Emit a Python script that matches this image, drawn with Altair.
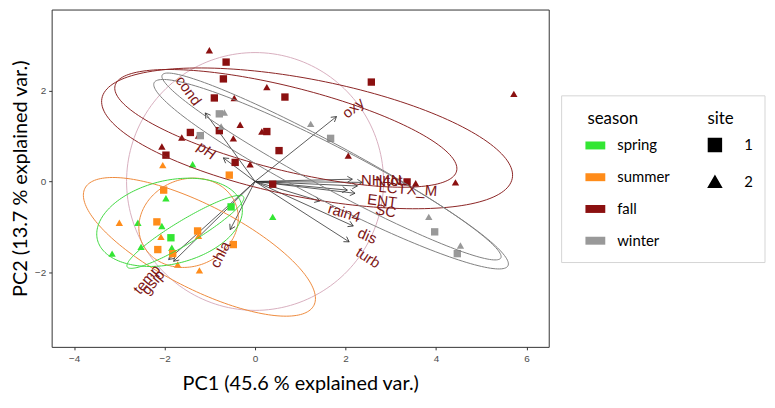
import numpy as np
import pandas as pd
import altair as alt

# ---------------- data ----------------
seasons = ["spring", "summer", "fall", "winter"]
season_colors = ["#33e633", "#ff8c1a", "#8b1010", "#999999"]
ellipse_colors = ["#3fd83f", "#ee8a3c", "#8b2323", "#808080"]

fall_x = [-1.01, -0.64, -0.70, 2.57, 0.26, 0.66, -0.90, -0.46, -0.33, 0.15, 0.26, -1.43, -1.62, -1.25,
          -0.79, -0.48, 0.53, 2.06, -2.06, -1.97, -0.44, -0.11, 3.36, 3.55, 4.43, 5.72, 0.39]
fall_y = [2.89, 2.63, 2.26, 2.19, 2.08, 1.86, 1.84, 1.84, 1.25, 1.10, 1.10, 1.08, 0.97, 1.01,
          1.12, 0.95, 0.68, 0.57, 0.77, 0.58, 0.42, 0.38, -0.01, -0.04, -0.02, 1.93, -0.06]
fall_site = [2, 1, 1, 1, 2, 1, 1, 2, 2, 2, 1, 1, 2, 2, 1, 2, 1, 2, 2, 1, 1, 2, 1, 2, 2, 2, 1]

winter_x = [-0.79, -0.68, -0.75, 1.23, 1.67, -1.21, 3.84, 3.97, 4.54, 4.47]
winter_y = [1.49, 1.52, 1.21, 1.27, 0.95, 1.01, -0.78, -1.11, -1.41, -1.59]
winter_site = [1, 2, 2, 2, 1, 1, 2, 1, 2, 1]

spring_x = [-1.38, -1.97, -2.59, -2.06, -1.86, -2.52, -1.84, -3.16, -0.53, 0.39]
spring_y = [0.38, -0.37, -0.91, -0.98, -1.24, -1.44, -1.46, -1.59, -0.56, -0.78]
spring_site = [2, 2, 2, 2, 1, 2, 2, 2, 1, 2]

summer_x = [-2.04, -0.57, -2.02, -3.00, -2.17, -2.08, -1.27, -1.25, -2.15, -1.82, -1.71, -1.23, -0.48]
summer_y = [0.36, 0.14, -0.19, -0.91, -0.89, -1.22, -1.09, -1.20, -1.50, -1.59, -1.83, -1.96, -1.39]
summer_site = [2, 1, 1, 2, 1, 2, 1, 2, 1, 1, 2, 2, 1]

var_names = ["cond", "pH", "oxy", "NH4N", "Ntot", "LCTX_M", "ENT", "SC", "rain4", "dis", "turb",
             "chla", "temp", "gsip"]
var_x = [-1.10, -0.70, 1.80, 2.37, 2.15, 2.26, 2.21, 2.04, 1.43, 2.17, 2.08, -0.55, -1.91, -1.80]
var_y = [1.51, 0.52, 1.43, -0.02, 0.05, -0.10, -0.26, -0.19, -0.43, -0.98, -1.33, -1.06, -1.72, -1.76]
lab_x = [-1.47, -1.07, 2.17, 2.79, 2.96, 3.38, 2.81, 2.89, 1.97, 2.48, 2.50, -0.77, -2.39, -2.26]
lab_y = [2.00, 0.68, 1.62, 0.03, 0.01, -0.17, -0.43, -0.65, -0.69, -1.20, -1.68, -1.61, -2.16, -2.22]
lab_angle = [54, 37, 321, 0, 358, 4, 7, 10, 17, 24, 33, 297, 310, 310]

# ellipses (per season x site): centre, semi-axes, rotation (deg)
ell_season = ["fall", "fall", "winter", "winter", "summer", "summer", "spring", "spring"]
ell_cx = [1.15, 0.68, 1.68, 1.69, -1.23, -1.47, -1.89, -1.54]
ell_cy = [0.95, 1.17, 0.16, 0.33, -1.44, -0.91, -0.90, -1.11]
ell_a = [4.62, 3.89, 4.40, 4.25, 2.84, 1.12, 1.64, 1.50]
ell_b = [1.30, 0.92, 0.60, 0.48, 0.92, 0.96, 0.92, 0.26]
ell_rot = [-11, -14, -27.3, -28.3, -27, 22, 13.4, 31]
circle_r = 2.84

x_ticks = [-4, -2, 0, 2, 4, 6]
y_ticks = [-2, 0, 2]

# ---------------- tables ----------------
rows = []
for s, xs_, ys_, ss_ in [("fall", fall_x, fall_y, fall_site), ("winter", winter_x, winter_y, winter_site),
                         ("spring", spring_x, spring_y, spring_site), ("summer", summer_x, summer_y, summer_site)]:
    for a, b, c in zip(xs_, ys_, ss_):
        rows.append({"x": a, "y": b, "season": s, "site": str(c)})
pts = pd.DataFrame(rows)

t = np.linspace(0, 2 * np.pi, 181)
erows = []
for i, (s, cx, cy, a, b, r) in enumerate(zip(ell_season, ell_cx, ell_cy, ell_a, ell_b, ell_rot)):
    th = np.deg2rad(r)
    ex = cx + a * np.cos(t) * np.cos(th) - b * np.sin(t) * np.sin(th)
    ey = cy + a * np.cos(t) * np.sin(th) + b * np.sin(t) * np.cos(th)
    for k, (u, v) in enumerate(zip(ex, ey)):
        erows.append({"x": u, "y": v, "season": s, "eid": i, "k": k})
ell = pd.DataFrame(erows)
circ = pd.DataFrame({"x": circle_r * np.cos(t), "y": circle_r * np.sin(t), "k": np.arange(len(t))})

vars_df = pd.DataFrame({"name": var_names, "x": var_x, "y": var_y, "x0": 0.0, "y0": 0.0,
                        "lx": lab_x, "ly": lab_y, "ang": lab_angle})

# ---------------- scales / axes ----------------
xsc = alt.Scale(domain=[-4.496, 6.491], nice=False, zero=False)
ysc = alt.Scale(domain=[-3.644, 3.788], nice=False, zero=False)
common_axis = dict(titleFont="Lato", titleFontSize=20, titleFontWeight="normal", titleColor="black",
                   labelFont="Liberation Sans", labelFontSize=10, labelColor="#4d4d4d",
                   tickColor="#333333", tickSize=3, domain=False, grid=False)
xaxis = alt.Axis(values=x_ticks, title="PC1 (45.6 % explained var.)", labelPadding=4, titlePadding=10,
                 **common_axis)
yaxis = alt.Axis(values=y_ticks, title="PC2 (13.7 % explained var.)", labelPadding=3, titlePadding=4,
                 **common_axis)


def X(f):
    return alt.X(f, type="quantitative", scale=xsc, axis=xaxis)


def Y(f):
    return alt.Y(f, type="quantitative", scale=ysc, axis=yaxis)


frame = alt.Chart(pd.DataFrame({"k": [0]})).mark_rect(fill="white", stroke="#d4d4d4", strokeWidth=1).encode(
    x=alt.value(514), x2=alt.value(719), y=alt.value(87), y2=alt.value(255))

circle = alt.Chart(circ).mark_line(color="#d8aebe", strokeWidth=1).encode(x=X("x"), y=Y("y"), order="k:Q")

arrows = alt.Chart(vars_df).mark_rule(color="#333333", strokeWidth=0.8).encode(
    x=X("x0"), y=Y("y0"), x2="x:Q", y2="y:Q")

heads = alt.Chart(vars_df).transform_calculate(
    hang="(360 - atan2(datum.y, datum.x) * 180 / PI) % 360"
).mark_point(shape="M-1,-0.6L0,0L-1,0.6", filled=False, size=100, strokeWidth=0.8, color="#333333",
             opacity=1).encode(x=X("x"), y=Y("y"), angle=alt.Angle("hang:Q", scale=None))

points = alt.Chart(pts).mark_point(filled=True, opacity=1, size=55).encode(
    x=X("x"), y=Y("y"),
    color=alt.Color("season:N", scale=alt.Scale(domain=seasons, range=season_colors),
                    legend=alt.Legend(title="season", orient="none", legendX=540, legendY=102,
                                      symbolType="M-1.25,-0.5H1.25V0.5H-1.25Z", symbolSize=256,
                                      symbolStrokeWidth=0, symbolOpacity=1,
                                      labelFont="Lato", labelFontSize=15, labelColor="black",
                                      titleFont="Lato", titleFontSize=17, titleFontWeight="normal",
                                      titleColor="black", labelOffset=14, rowPadding=16, titlePadding=10)),
    shape=alt.Shape("site:N", scale=alt.Scale(domain=["1", "2"], range=["square", "triangle-up"]),
                    legend=alt.Legend(title="site", orient="none", legendX=661, legendY=102,
                                      symbolSize=170, symbolFillColor="black", symbolStrokeColor="black",
                                      symbolOpacity=1,
                                      labelFont="Lato", labelFontSize=15, labelColor="black",
                                      titleFont="Lato", titleFontSize=17, titleFontWeight="normal",
                                      titleColor="black", labelOffset=22, rowPadding=17, titlePadding=10)),
)

ellipses = alt.Chart(ell).mark_line(strokeWidth=1).encode(
    x=X("x"), y=Y("y"), detail="eid:N", order="k:Q",
    stroke=alt.Stroke("season:N", scale=alt.Scale(domain=seasons, range=ellipse_colors), legend=None))

labels = alt.Chart(vars_df).mark_text(font="Liberation Sans", fontSize=15, color="#7d1616",
                                      align="center", baseline="middle").encode(
    x=X("lx"), y=Y("ly"), text="name:N", angle=alt.Angle("ang:Q", scale=None))

chart = alt.layer(frame, circle, arrows, heads, points, ellipses, labels).properties(
    width=501, height=340, autosize="none",
    padding={"left": 44, "top": 0, "right": 220, "bottom": 52},
).configure_view(stroke="#333333", strokeWidth=1)

chart.save("out.html", embed_options={"renderer": "svg", "actions": False})
